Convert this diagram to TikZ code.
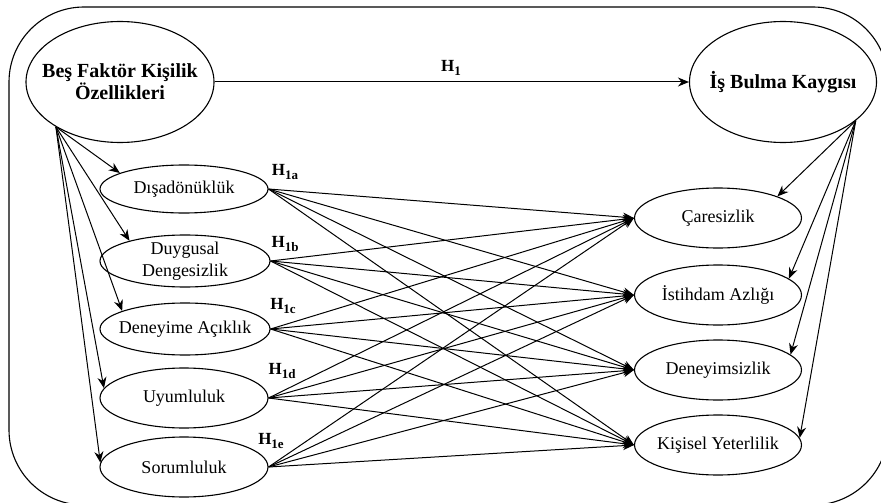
\documentclass[tikz,border=0pt]{standalone}
\usepackage{fontspec}
\setmainfont{Liberation Serif}
\usetikzlibrary{shapes.geometric,arrows.meta}
\newcommand{\hyp}[1]{H\raisebox{-0.45ex}{\fontsize{13}{13}\selectfont #1}}
\begin{document}
\begin{tikzpicture}[x=1pt,y=-1pt,
  ell/.style={draw,ellipse,line width=1.1pt,inner sep=0pt},
  arr/.style={line width=1pt,-{Stealth[length=11pt,width=9pt]}},
  lab/.style={font=\fontsize{18}{22}\selectfont,align=center},
  blab/.style={font=\bfseries\fontsize{20}{22}\selectfont,align=center},
  hlab/.style={font=\bfseries\fontsize{17}{18}\selectfont,inner sep=0pt}]
\useasboundingbox (0,0) rectangle (881,503);
\draw[line width=1.1pt,rounded corners=75pt] (9,7) rectangle (888,505);
% main constructs
\node[ell,minimum width=188pt,minimum height=121pt,label={[blab]center:{Beş Faktör Kişilik\\Özellikleri}}] (bf) at (120,82) {};
\node[ell,minimum width=187pt,minimum height=121pt,label={[blab]center:{İş Bulma Kaygısı}}] (ib) at (783,82) {};
% left dimensions
\node[ell,minimum width=168pt,minimum height=48pt,label={[lab]center:{Dışadönüklük}}] (l1) at (184,189) {};
\node[ell,minimum width=170pt,minimum height=52pt,label={[lab]center:{Duygusal\\Dengesizlik}}] (l2) at (185,261) {};
\node[ell,minimum width=170pt,minimum height=52pt,label={[lab]center:{Deneyime Açıklık}}] (l3) at (185,329) {};
\node[ell,minimum width=168pt,minimum height=60pt,label={[lab]center:{Uyumluluk}}] (l4) at (184,398) {};
\node[ell,minimum width=168pt,minimum height=60pt,label={[lab]center:{Sorumluluk}}] (l5) at (184,467) {};
% right dimensions
\node[ell,minimum width=167pt,minimum height=60pt,label={[lab]center:{Çaresizlik}}] (r1) at (718,218) {};
\node[ell,minimum width=167pt,minimum height=60pt,label={[lab]center:{İstihdam Azlığı}}] (r2) at (718,295) {};
\node[ell,minimum width=167pt,minimum height=60pt,label={[lab]center:{Deneyimsizlik}}] (r3) at (718,370) {};
\node[ell,minimum width=167pt,minimum height=60pt,label={[lab]center:{Kişisel Yeterlilik}}] (r4) at (718,445) {};
% hypothesis labels
\node[hlab] (h1) at (451,68) {\hyp{1}};
\node[hlab] (h1a) at (285,172) {\hyp{1a}};
\node[hlab] (h1b) at (285,244) {\hyp{1b}};
\node[hlab] (h1c) at (283,306) {\hyp{1c}};
\node[hlab] (h1d) at (282,371) {\hyp{1d}};
\node[hlab] (h1e) at (271,441) {\hyp{1e}};
% main path
\draw[arr] (bf.east) -- (ib.west);
% from Beş Faktör to dimensions
\draw[arr] (bf.-145) -- (l1.166);
\draw[arr] (bf.-145) -- (l2.160);
\draw[arr] (bf.-145) -- (l3.164);
\draw[arr] (bf.-145) -- (l4.173);
\draw[arr] (bf.-145) -- (l5.177);
% from İş Bulma Kaygısı to dimensions
\draw[arr] (ib.-28) -- (r1.20);
\draw[arr] (ib.-28) -- (r2.13);
\draw[arr] (ib.-28) -- (r3.12);
\draw[arr] (ib.-28) -- (r4.5);
% cross paths
\foreach \l in {l1,l2,l3,l4,l5}{
  \foreach \r in {r1,r2,r3,r4}{
    \draw[arr] (\l.east) -- (\r.west);
  }
}
\end{tikzpicture}
\end{document}
